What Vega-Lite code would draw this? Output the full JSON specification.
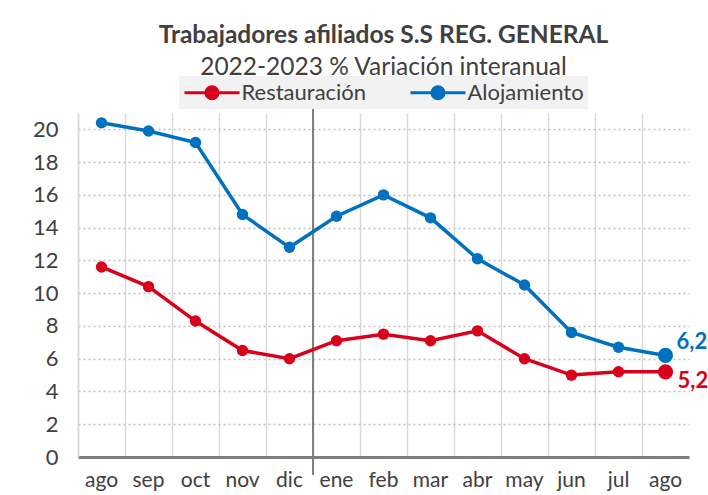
{
  "$schema": "https://vega.github.io/schema/vega-lite/v6.json",
  "autosize": {"type": "none"},
  "padding": {"left": 78, "top": 113, "right": 19, "bottom": 38},
  "width": 611,
  "height": 344,
  "background": "white",
  "config": {
    "locale": {"number": {"decimal": ",", "thousands": ".", "grouping": [3], "currency": ["", " €"]}},
    "view": {"stroke": null},
    "font": "Lato",
    "title": {"font": "Lato", "fontSize": 24.5, "fontWeight": "bold", "color": "#404040", "subtitleFont": "Lato", "subtitleFontSize": 24.5, "subtitleColor": "#404040", "subtitleFontWeight": "normal", "anchor": "middle", "subtitlePadding": 7, "offset": -4},
    "legend": {"orient": "none", "legendX": 101, "legendY": -37, "direction": "horizontal", "title": null, "labelFont": "Lato", "labelFontSize": 22, "labelColor": "#404040", "symbolType": "M-2.5,0L2.5,0M0.55,0A0.55,0.55,0,1,1,-0.55,0A0.55,0.55,0,1,1,0.55,0Z", "symbolSize": 484, "symbolOffset": 16.5, "symbolStrokeWidth": 3, "labelOffset": 17, "columnPadding": 37, "fillColor": "#f2f2f2", "padding": 4}
  },
  "title": {"text": "Trabajadores afiliados S.S REG. GENERAL", "subtitle": "2022-2023 % Variación interanual"},
  "data": {"values": [
    {"mes": "ago-22", "serie": "Alojamiento", "valor": 20.4},
    {"mes": "sep-22", "serie": "Alojamiento", "valor": 19.9},
    {"mes": "oct-22", "serie": "Alojamiento", "valor": 19.2},
    {"mes": "nov-22", "serie": "Alojamiento", "valor": 14.8},
    {"mes": "dic-22", "serie": "Alojamiento", "valor": 12.8},
    {"mes": "ene-23", "serie": "Alojamiento", "valor": 14.7},
    {"mes": "feb-23", "serie": "Alojamiento", "valor": 16.0},
    {"mes": "mar-23", "serie": "Alojamiento", "valor": 14.6},
    {"mes": "abr-23", "serie": "Alojamiento", "valor": 12.1},
    {"mes": "may-23", "serie": "Alojamiento", "valor": 10.5},
    {"mes": "jun-23", "serie": "Alojamiento", "valor": 7.6},
    {"mes": "jul-23", "serie": "Alojamiento", "valor": 6.7},
    {"mes": "ago-23", "serie": "Alojamiento", "valor": 6.2},
    {"mes": "ago-22", "serie": "Restauración", "valor": 11.6},
    {"mes": "sep-22", "serie": "Restauración", "valor": 10.4},
    {"mes": "oct-22", "serie": "Restauración", "valor": 8.3},
    {"mes": "nov-22", "serie": "Restauración", "valor": 6.5},
    {"mes": "dic-22", "serie": "Restauración", "valor": 6.0},
    {"mes": "ene-23", "serie": "Restauración", "valor": 7.1},
    {"mes": "feb-23", "serie": "Restauración", "valor": 7.5},
    {"mes": "mar-23", "serie": "Restauración", "valor": 7.1},
    {"mes": "abr-23", "serie": "Restauración", "valor": 7.7},
    {"mes": "may-23", "serie": "Restauración", "valor": 6.0},
    {"mes": "jun-23", "serie": "Restauración", "valor": 5.0},
    {"mes": "jul-23", "serie": "Restauración", "valor": 5.2},
    {"mes": "ago-23", "serie": "Restauración", "valor": 5.2}
  ]},
  "encoding": {
    "x": {"field": "mes", "type": "ordinal", "sort": null,
      "scale": {"domain": ["ago-22", "sep-22", "oct-22", "nov-22", "dic-22", "ene-23", "feb-23", "mar-23", "abr-23", "may-23", "jun-23", "jul-23", "ago-23"], "paddingInner": 0, "paddingOuter": 0},
      "axis": {"title": null, "labelExpr": "substring(datum.label,0,3)", "labelFont": "Lato", "labelFontSize": 21, "labelColor": "#404040", "labelAngle": 0, "labelPadding": 12, "ticks": false, "grid": true, "gridColor": "#d9d9d9", "gridWidth": 1.5, "bandPosition": 0, "domainColor": "#7f7f7f", "domainWidth": 3}},
    "y": {"field": "valor", "type": "quantitative",
      "scale": {"domain": [0, 21], "nice": false},
      "axis": {"title": null, "values": [0, 2, 4, 6, 8, 10, 12, 14, 16, 18, 20], "labelFont": "Lato", "labelFontSize": 22, "labelColor": "#404040", "labelPadding": 20, "ticks": false, "grid": true, "gridColor": "#bfbfbf", "gridDash": [2, 3], "gridWidth": 1.5, "gridOpacity": {"condition": {"test": "datum.value === 0", "value": 0}, "value": 1}, "domainColor": "#d9d9d9", "domainWidth": 1.5}},
    "color": {"field": "serie", "type": "nominal",
      "scale": {"domain": ["Restauración", "Alojamiento"], "range": ["#D9001B", "#0070C0"]},
      "legend": {"encode": {"symbols": {"update": {"fill": {"scale": "color", "field": "value"}, "stroke": {"scale": "color", "field": "value"}}}}}}
  },
  "layer": [
    {"transform": [{"filter": "datum.mes == 'ene-23' && datum.serie == 'Alojamiento'"}],
      "mark": {"type": "rule", "strokeWidth": 2},
      "encoding": {"x": {"field": "mes", "type": "ordinal", "bandPosition": 0}, "y": {"datum": 21.8}, "y2": {"datum": -1.1}, "color": {"value": "#7f7f7f"}}},
    {"mark": {"type": "line", "strokeWidth": 3.5}},
    {"mark": {"type": "point", "filled": true, "opacity": 1},
      "encoding": {"size": {"condition": {"test": "datum.mes == 'ago-23'", "value": 230}, "value": 130}}},
    {"transform": [{"filter": "datum.mes == 'ago-23' && datum.serie == 'Alojamiento'"}],
      "mark": {"type": "text", "align": "left", "dx": 11, "dy": -13, "fontSize": 22, "fontWeight": "bold", "font": "Lato"},
      "encoding": {"text": {"field": "valor", "type": "quantitative", "format": ".1f"}}},
    {"transform": [{"filter": "datum.mes == 'ago-23' && datum.serie == 'Restauración'"}],
      "mark": {"type": "text", "align": "left", "dx": 12, "dy": 9, "fontSize": 22, "fontWeight": "bold", "font": "Lato"},
      "encoding": {"text": {"field": "valor", "type": "quantitative", "format": ".1f"}}}
  ]
}
